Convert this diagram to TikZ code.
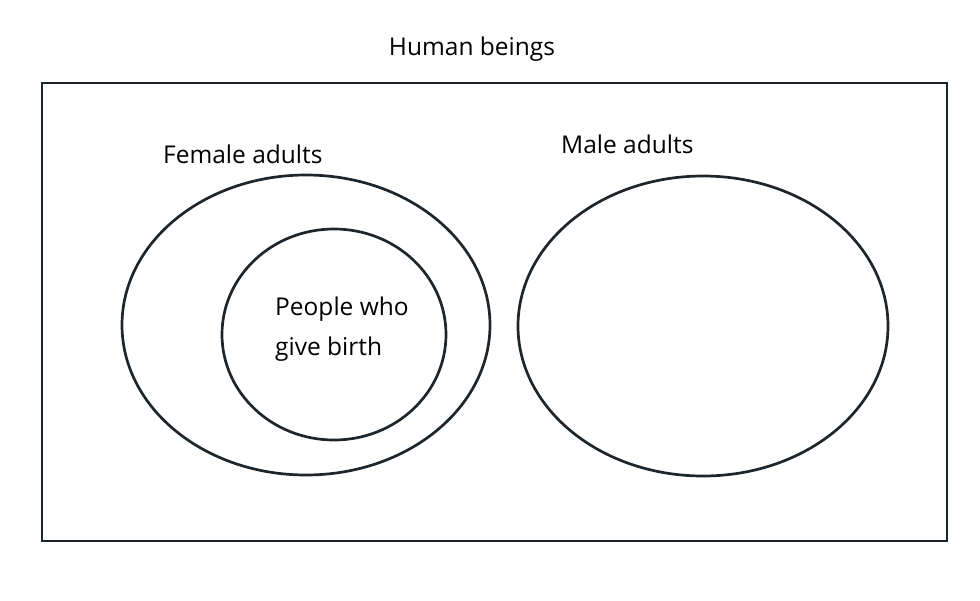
\documentclass[tikz,border=0pt]{standalone}
\usepackage{fontspec}
\setmainfont{Open Sans}
\usetikzlibrary{shapes.geometric}
\definecolor{ink}{HTML}{1E262B}
\begin{document}
\begin{tikzpicture}[x=1pt,y=-1pt,
  outl/.style={draw=ink,line width=2.7pt},
  lbl/.style={font=\fontsize{24.5}{40}\selectfont,text=black,inner sep=0pt}]
\useasboundingbox (0,0) rectangle (980,600);
\node[outl,rectangle,minimum width=905,minimum height=458,inner sep=0pt] (box) at (494.5,312) {};
\node[lbl,anchor=base] (title) at (472,55) {Human beings};
\node[outl,ellipse,minimum width=368,minimum height=300,inner sep=0pt] (female) at (306,325) {};
\node[outl,ellipse,minimum width=224,minimum height=211,inner sep=0pt] (birth) at (334,334.5) {};
\node[outl,ellipse,minimum width=370,minimum height=300,inner sep=0pt] (male) at (703,326) {};
\node[lbl,anchor=base west] (flbl) at (163,163) {Female adults};
\node[lbl,anchor=base west] (mlbl) at (561,153) {Male adults};
\node[lbl,anchor=base west] (blbl) at (275,315) {People who};
\node[lbl,anchor=base west] (blbl2) at (275,355) {give birth};
\end{tikzpicture}
\end{document}
